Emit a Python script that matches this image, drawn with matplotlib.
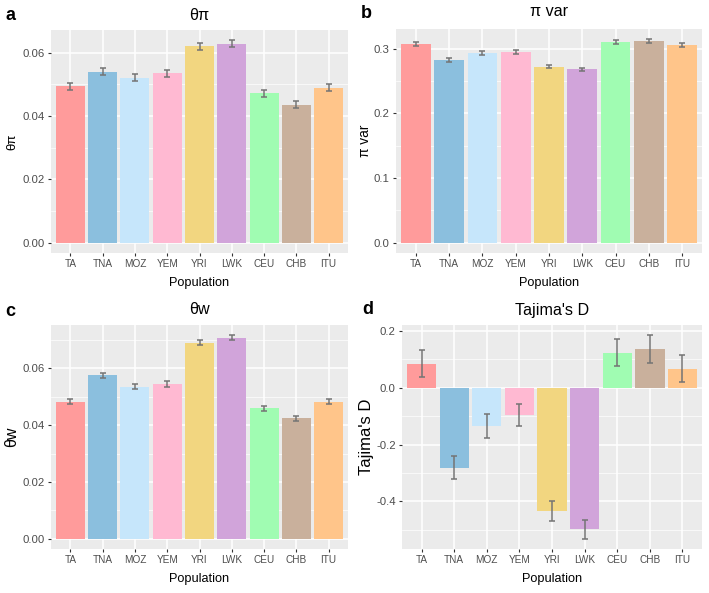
import matplotlib
matplotlib.use('Agg')
import matplotlib.pyplot as plt
import numpy as np
from matplotlib.ticker import MultipleLocator, FuncFormatter

plt.rcParams['font.family'] = ['Liberation Sans', 'DejaVu Sans']

populations = ['TA', 'TNA', 'MOZ', 'YEM', 'YRI', 'LWK', 'CEU', 'CHB', 'ITU']
bar_colors = ['#FF9B9B', '#8BBFDE', '#C6E6FB', '#FFB9D2', '#F2D680',
              '#D1A4DA', '#A0FCB2', '#C9B09C', '#FFC58A']

theta_pi = [0.0493, 0.0540, 0.0521, 0.0534, 0.0620, 0.0628, 0.0471, 0.0436, 0.0489]
theta_pi_err = [0.0012, 0.0011, 0.0011, 0.0012, 0.0011, 0.0011, 0.0011, 0.0010, 0.0011]

pi_var = [0.307, 0.282, 0.2925, 0.295, 0.2717, 0.2676, 0.310, 0.3114, 0.3058]
pi_var_err = [0.003, 0.003, 0.003, 0.003, 0.0025, 0.0025, 0.003, 0.003, 0.003]

theta_w = [0.0483, 0.0576, 0.0536, 0.0545, 0.0690, 0.0708, 0.0459, 0.0424, 0.0482]
theta_w_err = [0.0009, 0.0009, 0.0009, 0.0009, 0.0009, 0.0009, 0.0008, 0.0008, 0.0009]

tajima_d = [0.085, -0.2816, -0.134, -0.096, -0.4355, -0.4995, 0.124, 0.137, 0.0674]
tajima_d_err = [0.047, 0.041, 0.043, 0.040, 0.035, 0.033, 0.047, 0.0485, 0.047]

W, H = 709, 593
fig = plt.figure(figsize=(W / 100, H / 100), dpi=100)


def px_rect(x0, y0, x1, y1):
    return [x0 / W, 1 - y1 / H, (x1 - x0) / W, (y1 - y0) / H]


def ftext(x, y, s, **kw):
    fig.text(x / W, 1 - y / H, s, ha='center', va='center', **kw)


def panel(rect, vals, errs, title, ylabel, step, fmt, letter, letter_xy, title_y,
          ylab_x, xlab_y, ylab_size):
    ax = fig.add_axes(px_rect(*rect))
    x = np.arange(len(populations))
    ax.set_facecolor('#EBEBEB')
    ax.bar(x, vals, width=0.9, color=bar_colors, zorder=2)
    ax.errorbar(x, vals, yerr=errs, fmt='none', ecolor='#747474',
                elinewidth=1.1, capsize=2.4, capthick=1.1, zorder=3)
    v = np.array(vals)
    e = np.array(errs)
    lo = min(0, (v - e).min())
    hi = max(0, (v + e).max())
    pad = (hi - lo) * 0.05
    ax.set_ylim(lo - pad, hi + pad)
    ax.set_xlim(-0.6, len(populations) - 0.4)
    ax.yaxis.set_major_locator(MultipleLocator(step))
    ax.yaxis.set_minor_locator(MultipleLocator(step / 2))
    ax.yaxis.set_major_formatter(FuncFormatter(lambda t, p: fmt.format(0.0 if abs(t) < 1e-9 else t)))
    ax.set_xticks(x)
    ax.set_xticklabels(populations)
    ax.grid(True, which='major', color='white', linewidth=1.1, zorder=0)
    ax.grid(True, which='minor', axis='y', color='white', linewidth=0.5, zorder=0)
    ax.set_axisbelow(True)
    for s in ax.spines.values():
        s.set_visible(False)
    ax.tick_params(axis='both', which='major', length=2.5, width=0.8, color='#333333',
                   labelcolor='#4D4D4D', pad=2)
    ax.tick_params(axis='x', labelsize=7.2)
    ax.tick_params(axis='y', labelsize=8.2)
    ax.tick_params(axis='y', which='minor', length=0)
    ftext(ylab_x, (rect[1] + rect[3]) / 2, ylabel, fontsize=ylab_size, rotation=90)
    ftext((rect[0] + rect[2]) / 2, xlab_y, 'Population', fontsize=9.2)
    ftext((rect[0] + rect[2]) / 2, title_y, title, fontsize=11.6)
    fig.text(letter_xy[0] / W, 1 - letter_xy[1] / H, letter, ha='left', va='center',
             fontsize=13, fontweight='bold')
    return ax


panel((51, 30, 348, 253), theta_pi, theta_pi_err, 'θπ', 'θπ', 0.02, '{:.2f}',
      'a', (5, 15), 15, 12, 283, 9.5)
panel((396, 29, 702, 253), pi_var, pi_var_err, 'π var', 'π var', 0.1, '{:.1f}',
      'b', (361, 14), 12, 365, 283, 9.8)
panel((51, 325, 348, 549), theta_w, theta_w_err, 'θw', 'θw', 0.02, '{:.2f}',
      'c', (5, 311), 310, 12, 579, 11.5)
panel((402, 325, 702, 549), tajima_d, tajima_d_err, "Tajima's D", "Tajima's D", 0.2, '{:.1f}',
      'd', (362, 310), 311, 367, 579, 12)

fig.savefig('out.png', dpi=100, facecolor='white')
